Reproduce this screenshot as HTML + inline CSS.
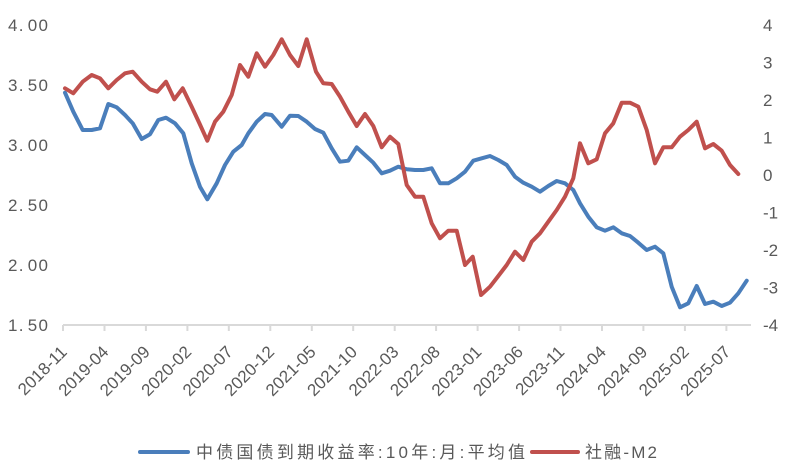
<!DOCTYPE html>
<html>
<head>
<meta charset="utf-8">
<style>
  html, body { margin: 0; padding: 0; background: #ffffff; }
  body { width: 792px; height: 473px; overflow: hidden; }
  svg { display: block; }
  .num { font-family: "Liberation Sans", "Noto Sans CJK SC", sans-serif; font-size: 17px; fill: #595959; }
  .xl { font-family: "Liberation Sans", "Noto Sans CJK SC", sans-serif; font-size: 17px; fill: #595959; }
  .lg { font-family: "Liberation Sans", "Noto Sans CJK SC", sans-serif; font-size: 17px; fill: #595959; }
</style>
</head>
<body>
<svg width="792" height="473" viewBox="0 0 792 473" xmlns="http://www.w3.org/2000/svg">
  <rect x="0" y="0" width="792" height="473" fill="#ffffff"/>

  <!-- Left axis labels -->
  <g class="num" letter-spacing="1.3">
    <text x="8" y="31">4.<tspan dx="3">00</tspan></text>
    <text x="8" y="91">3.<tspan dx="3">50</tspan></text>
    <text x="8" y="151">3.<tspan dx="3">00</tspan></text>
    <text x="8" y="211">2.<tspan dx="3">50</tspan></text>
    <text x="8" y="271">2.<tspan dx="3">00</tspan></text>
    <text x="8" y="331">1.<tspan dx="3">50</tspan></text>
  </g>

  <!-- Right axis labels -->
  <g class="num">
    <text x="763" y="31">4</text>
    <text x="763" y="68.5">3</text>
    <text x="763" y="106">2</text>
    <text x="763" y="143.5">1</text>
    <text x="763" y="181">0</text>
    <text x="763" y="218.5">-1</text>
    <text x="763" y="256">-2</text>
    <text x="763" y="293.5">-3</text>
    <text x="763" y="331">-4</text>
  </g>

  <!-- X axis -->
  <line x1="63" y1="325" x2="751" y2="325" stroke="#d9d9d9" stroke-width="2"/>
  <g stroke="#d9d9d9" stroke-width="2">
    <line x1="63" y1="325" x2="63" y2="331"/>
    <line x1="104.5" y1="325" x2="104.5" y2="331"/>
    <line x1="145.9" y1="325" x2="145.9" y2="331"/>
    <line x1="187.4" y1="325" x2="187.4" y2="331"/>
    <line x1="228.8" y1="325" x2="228.8" y2="331"/>
    <line x1="270.3" y1="325" x2="270.3" y2="331"/>
    <line x1="311.8" y1="325" x2="311.8" y2="331"/>
    <line x1="353.2" y1="325" x2="353.2" y2="331"/>
    <line x1="394.7" y1="325" x2="394.7" y2="331"/>
    <line x1="436.1" y1="325" x2="436.1" y2="331"/>
    <line x1="477.6" y1="325" x2="477.6" y2="331"/>
    <line x1="519.1" y1="325" x2="519.1" y2="331"/>
    <line x1="560.5" y1="325" x2="560.5" y2="331"/>
    <line x1="602" y1="325" x2="602" y2="331"/>
    <line x1="643.4" y1="325" x2="643.4" y2="331"/>
    <line x1="684.9" y1="325" x2="684.9" y2="331"/>
    <line x1="726.4" y1="325" x2="726.4" y2="331"/>
  </g>

  <!-- X labels -->
  <g class="xl" text-anchor="end">
    <text transform="translate(68,353) rotate(-45)">2018-11</text>
    <text transform="translate(109.5,353) rotate(-45)">2019-04</text>
    <text transform="translate(150.9,353) rotate(-45)">2019-09</text>
    <text transform="translate(192.4,353) rotate(-45)">2020-02</text>
    <text transform="translate(233.8,353) rotate(-45)">2020-07</text>
    <text transform="translate(275.3,353) rotate(-45)">2020-12</text>
    <text transform="translate(316.8,353) rotate(-45)">2021-05</text>
    <text transform="translate(358.2,353) rotate(-45)">2021-10</text>
    <text transform="translate(399.7,353) rotate(-45)">2022-03</text>
    <text transform="translate(441.1,353) rotate(-45)">2022-08</text>
    <text transform="translate(482.6,353) rotate(-45)">2023-01</text>
    <text transform="translate(524.1,353) rotate(-45)">2023-06</text>
    <text transform="translate(565.5,353) rotate(-45)">2023-11</text>
    <text transform="translate(607,353) rotate(-45)">2024-04</text>
    <text transform="translate(648.4,353) rotate(-45)">2024-09</text>
    <text transform="translate(689.9,353) rotate(-45)">2025-02</text>
    <text transform="translate(731.4,353) rotate(-45)">2025-07</text>
  </g>

  <!-- Blue series: 10Y CGB yield -->
  <polyline fill="none" stroke="#4a7ebb" stroke-width="4" stroke-linejoin="round" stroke-linecap="round"
    points="65,92.7 73.3,111.7 82.7,130 91.7,130 100,128.3 108.3,104 116.7,107.3 125,115 132.7,123.3 141.7,139 150,134.3 158.3,120 166,117.7 175,123.3 183.3,133.3 191.7,163.3 200,186.7 207.3,199.3 216.7,183.3 225,165 233.3,151.7 241.7,145 248.3,133.3 256.7,121.7 265,114 271.7,115 281.7,126.7 290,115.7 298.3,116 306.7,121.7 315,129 323.3,132.7 331.7,148.3 340,161.7 348.3,160.7 356.7,147.3 365,155 373.3,162.7 381.7,173.3 390,170.7 398.3,166.7 406.7,169.3 415,170 423.3,170 431.7,168.3 440,183.3 448.3,183.3 456.7,178.3 465,171.7 473.3,160.7 481.7,158.3 490,156 498.3,160 506.7,165 515,176.7 523.3,182.7 531.7,186.7 540,191.7 548.3,186 556.7,181 565,183.3 573.3,190 580,203.3 588.3,216.7 596.7,227.3 605,230.7 613.3,227.3 621.7,233.3 630,236 638.3,242.7 646.7,250 655,246.7 663.3,253.3 671.7,286.7 680,307.3 688.3,303.3 696.7,286 705,304 713.3,301.7 721.7,306 730,302.7 738.3,293.3 746.7,280.7"/>

  <!-- Red series: TSF - M2 -->
  <polyline fill="none" stroke="#c0504d" stroke-width="4" stroke-linejoin="round" stroke-linecap="round"
    points="65,88.3 73.3,93.3 82.7,81.7 91.7,75 100,78.3 108.3,88.3 116.7,80 125,73.3 132.7,71.7 141.7,81.7 150,89.3 157.3,91.7 166,81.7 174.3,99.3 182.7,88.3 191.7,106.7 199.5,123.5 207.3,140.7 215,121.7 223.3,111.7 231.7,95 240,65 248.3,76.7 256.7,53.3 265,66.7 273.3,55 281.7,39.3 290,55 298.3,66 306.7,39.3 316,71.7 323.3,83.3 331.7,84 340,96.7 348.3,111.7 356.7,126 365,114 373.3,126 381.7,147.3 390,136.7 398.3,144 406.7,185 415,196.7 423.3,196.7 431.7,223.3 440,238.3 448.3,230.7 456.7,230.7 465,265 472.7,256.7 481,295 490,286.7 498.3,276 506.7,265 515,251.7 523.3,260 531.7,241.7 540,233.3 548.3,221.7 556.7,210 565,196.7 573.3,178.3 580,143.3 588.3,163.3 596.7,159.3 605,133.3 613.3,123.3 621.7,102.7 630,102.7 638.3,106.7 646.7,130 655,163.3 663.3,147.3 671.7,147.3 680,136.7 688.3,130 696.7,121.7 705,148.3 713.3,144 721.7,150.7 730,165 738.3,174"/>

  <!-- Legend -->
  <line x1="140" y1="452" x2="188" y2="452" stroke="#4a7ebb" stroke-width="4" stroke-linecap="round"/>
  <text class="lg" x="196" y="458" textLength="329" lengthAdjust="spacing">中债国债到期收益率:10年:月:平均值</text>
  <line x1="532" y1="452" x2="578" y2="452" stroke="#c0504d" stroke-width="4" stroke-linecap="round"/>
  <text class="lg" x="585" y="458" textLength="72" lengthAdjust="spacing">社融-M2</text>
</svg>
</body>
</html>
